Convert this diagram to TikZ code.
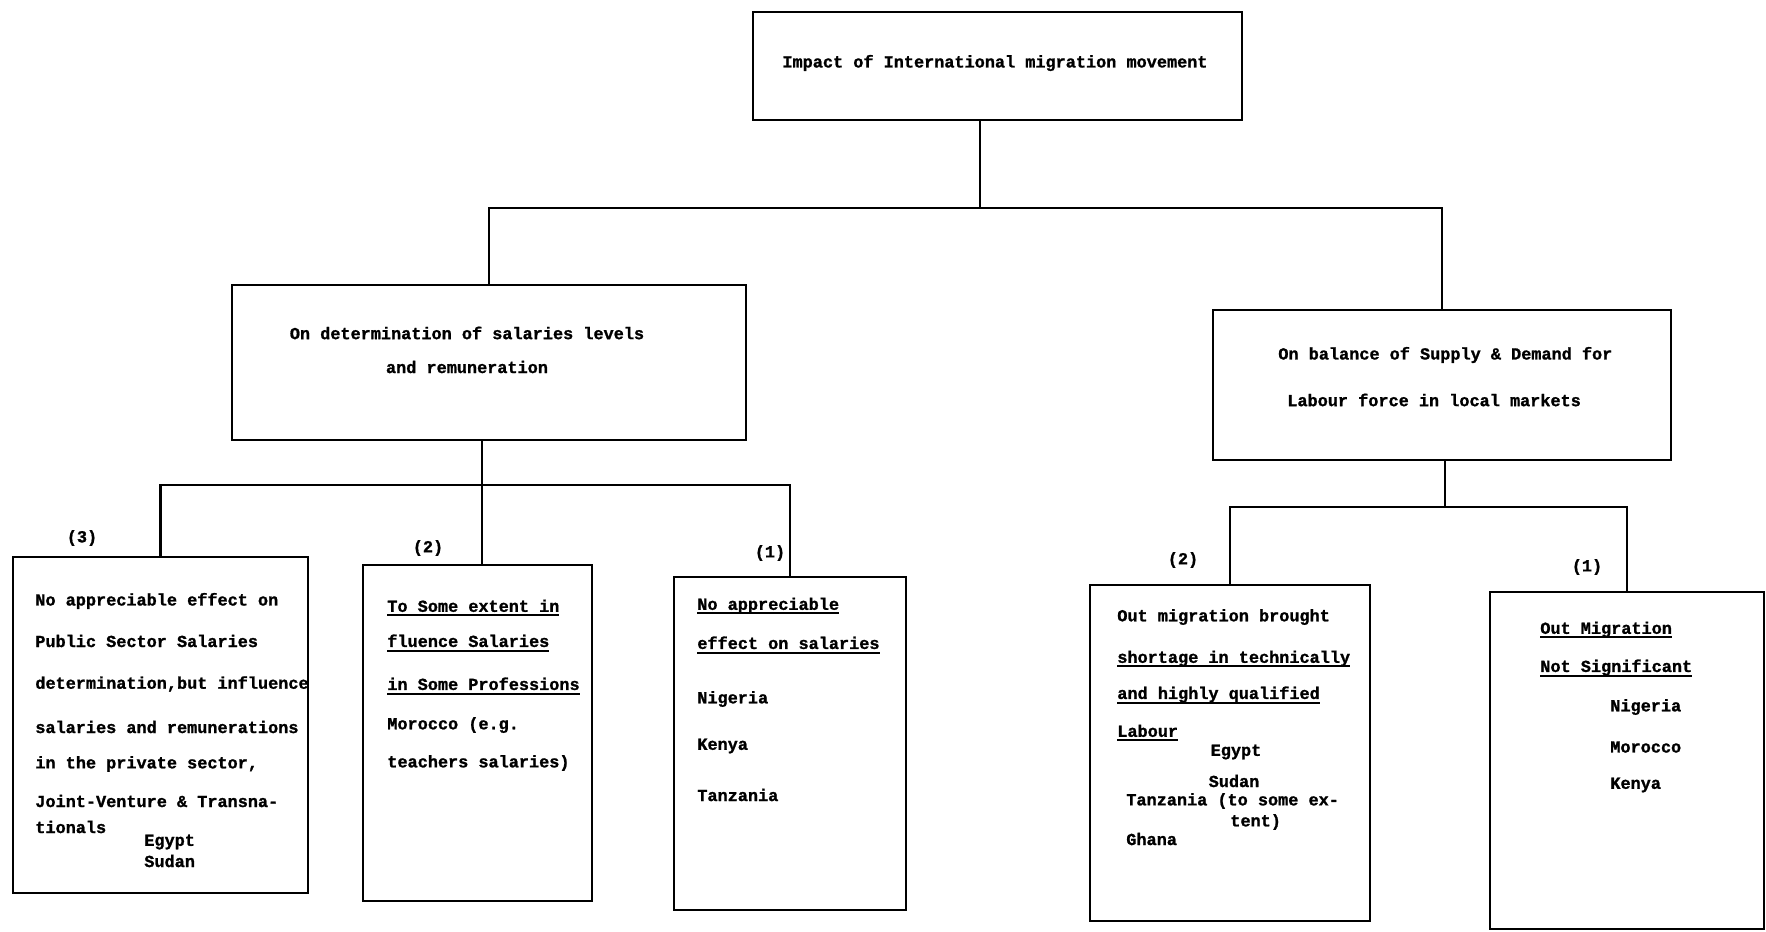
\documentclass[tikz,border=0pt]{standalone}
\usepackage{fontspec}
\newfontfamily\typewriter{Liberation Mono}[BoldFeatures={FakeBold=1.2}]
\newcommand\ulined[1]{\setbox0=\hbox{#1}\rlap{\rule[-2.6pt]{\wd0}{1.1pt}}\box0}
\tikzset{
    box/.style={draw, line width=1.4pt, inner sep=0pt},
    wire/.style={line width=1.2pt},
    txt/.style={anchor=west, inner sep=0pt, font=\typewriter\bfseries\fontsize{9.6}{11}\selectfont},
    ctxt/.style={txt, anchor=center}
}

\begin{document}
\begin{tikzpicture}[x=0.02cm, y=-0.02cm]
\useasboundingbox (0,0) rectangle (1766,932);

% boxes
\node[box, minimum width=9.78cm, minimum height=2.16cm] (impact) at (997.5,66) {};
\node[box, minimum width=10.28cm, minimum height=3.1cm] (salary) at (489,362.5) {};
\node[box, minimum width=9.16cm, minimum height=3.0cm] (supply) at (1442,385) {};
\node[box, minimum width=5.9cm, minimum height=6.72cm] (sal3) at (160.5,725) {};
\node[box, minimum width=4.58cm, minimum height=6.72cm] (sal2) at (477.5,733) {};
\node[box, minimum width=4.64cm, minimum height=6.66cm] (sal1) at (790,743.5) {};
\node[box, minimum width=5.6cm, minimum height=6.72cm] (sup2) at (1230,753) {};
\node[box, minimum width=5.48cm, minimum height=6.74cm] (sup1) at (1627,760.5) {};

% connectors
\coordinate (busA) at (980,208);
\coordinate (busB) at (482,485);
\coordinate (busC) at (1445,507);
\draw[wire] (impact.south -| busA) -- (busA);
\draw[wire] (salary.north) |- (busA) -| (supply.north);
\draw[wire] (salary.south -| busB) -- (sal2.north -| busB);
\draw[wire] (sal3.north) |- (busB) -| (sal1.north);
\draw[wire] (supply.south -| busC) -- (busC);
\draw[wire] (sup2.north) |- (busC) -| (sup1.north);

% top and middle texts
\node[ctxt] (impactT) at (995,63) {Impact of International migration movement};
\node[ctxt] (salaryA) at (467,333) {On determination of salaries levels};
\node[ctxt] (salaryB) at (467,367) {and remuneration};
\node[txt] (supplyA) at (1278,355) {On balance of Supply \& Demand for};
\node[txt] (supplyB) at (1287,400) {Labour force in local markets};

% box (3)
\node[ctxt] (lab3) at (82,538) {(3)};
\node[txt] (s3a) at (35,601) {No appreciable effect on};
\node[txt] (s3b) at (35,641) {Public Sector Salaries};
\node[txt] (s3c) at (35,684) {determination,but influence};
\node[txt] (s3d) at (35,727) {salaries and remunerations};
\node[txt] (s3e) at (35,764) {in the private sector,};
\node[txt] (s3f) at (35,801) {Joint-Venture \& Transna-};
\node[txt] (s3g) at (35,827) {tionals};
\node[txt] (s3h) at (144,842) {Egypt};
\node[txt] (s3i) at (144,861) {Sudan};

% box (2)
\node[ctxt] (lab2) at (428,548) {(2)};
\node[txt] (s2a) at (387,608) {\ulined{To Some extent in}};
\node[txt] (s2b) at (387,643) {\ulined{fluence Salaries}};
\node[txt] (s2c) at (387,686) {\ulined{in Some Professions}};
\node[txt] (s2d) at (387,725) {Morocco (e.g.};
\node[txt] (s2e) at (387,763) {teachers salaries)};

% box (1)
\node[ctxt] (lab1) at (770,553) {(1)};
\node[txt] (s1a) at (697,606) {\ulined{No appreciable}};
\node[txt] (s1b) at (697,645) {\ulined{effect on salaries}};
\node[txt] (s1c) at (697,699) {Nigeria};
\node[txt] (s1d) at (697,746) {Kenya};
\node[txt] (s1e) at (697,795) {Tanzania};

% box (2) right
\node[ctxt] (labR2) at (1183,560) {(2)};
\node[txt] (r2a) at (1117,617) {Out migration brought};
\node[txt] (r2b) at (1117,659) {\ulined{shortage in technically}};
\node[txt] (r2c) at (1117,695) {\ulined{and highly qualified}};
\node[txt] (r2d) at (1117,733) {\ulined{Labour}};
\node[ctxt] (r2e) at (1236,752) {Egypt};
\node[ctxt] (r2f) at (1234,781) {Sudan};
\node[txt] (r2g) at (1126,801) {Tanzania (to some ex-};
\node[txt] (r2h) at (1230,822) {tent)};
\node[txt] (r2i) at (1126,839) {Ghana};

% box (1) right
\node[ctxt] (labR1) at (1587,567) {(1)};
\node[txt] (r1a) at (1540,630) {\ulined{Out Migration}};
\node[txt] (r1b) at (1540,668) {\ulined{Not Significant}};
\node[txt] (r1c) at (1610,707) {Nigeria};
\node[txt] (r1d) at (1610,747) {Morocco};
\node[txt] (r1e) at (1610,785) {Kenya};
\end{tikzpicture}
\end{document}
